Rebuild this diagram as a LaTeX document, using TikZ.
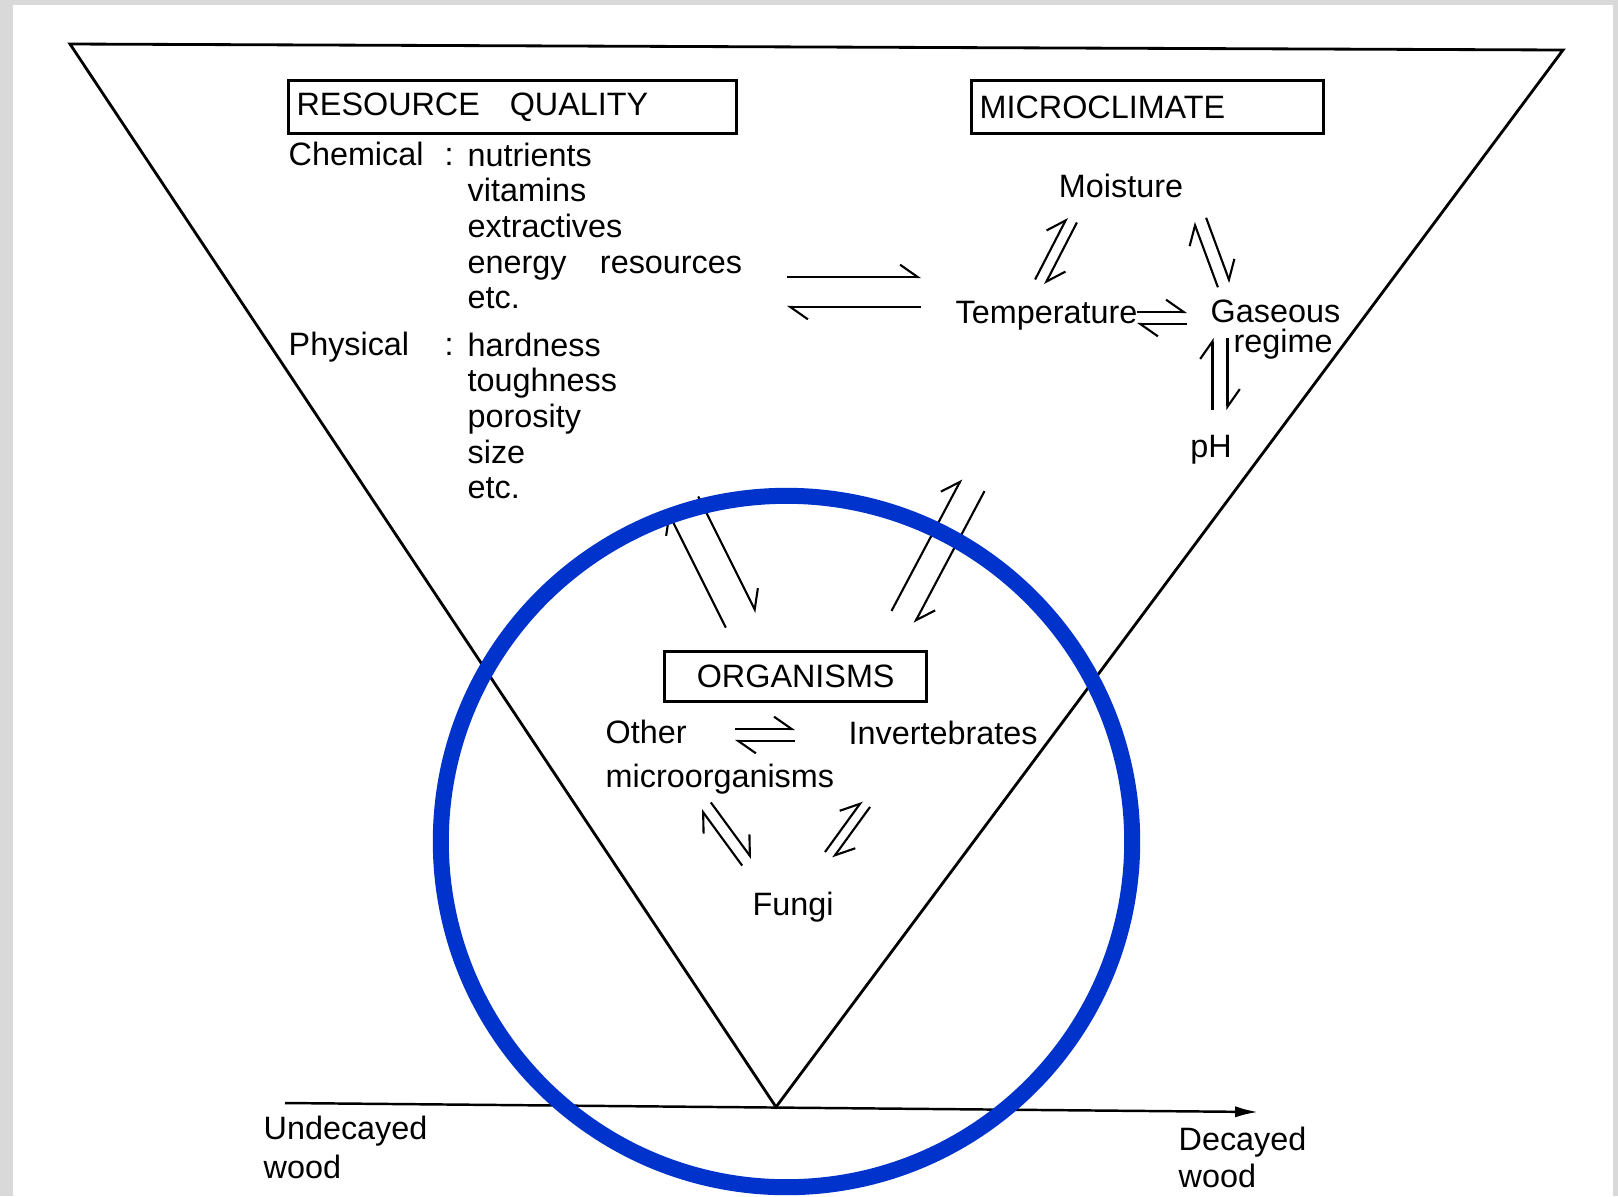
\documentclass[tikz,border=0pt]{standalone}
\usepackage{fontspec}
\setmainfont{Liberation Sans}
\usetikzlibrary{arrows.meta,calc}
\definecolor{ringblue}{RGB}{0,51,204}
\definecolor{pagegray}{RGB}{217,217,217}
\tikzset{
  hp/.style={line width=0.6pt,-{Straight Barb[left,length=5pt,angle'=70]}},
  box/.style={draw,line width=0.9pt,anchor=north west,inner xsep=0.08cm,inner ysep=0pt,minimum height=0.53cm,align=left},
  lbl/.style={anchor=base west}
}
\begin{document}
\begin{tikzpicture}[x=0.01cm,y=-0.01cm,font=\fontsize{9.2}{10.15}\selectfont,inner sep=0pt]
\useasboundingbox (0,0) rectangle (1618,1196);
\fill[pagegray] (0,0) rectangle (1618,1196);
\fill[white] (13,5) rectangle (1613,1196);
% wedge
\coordinate (tl) at (70,44);
\coordinate (tr) at (1563,50);
\coordinate (v) at (776,1107);
\draw[line width=0.8pt] (tl)--(tr)--(v)--cycle;
% decay axis
\coordinate (u0) at (285,1103);
\coordinate (u1) at (1258,1112);
\draw[line width=0.7pt,->,>={Latex[length=6.5pt,width=3.2pt]}](u0)--(u1);
\node[anchor=north west,align=left,font=\fontsize{9.2}{11.2}\selectfont] (undec) at (263,1115) {Undecayed\\wood};
\node[anchor=north west,align=left,font=\fontsize{9.2}{10.6}\selectfont] (dec) at (1178,1126) {Decayed\\wood};
% resource quality
\node[box,text width=4.32cm] (rq) at (287,79) {RESOURCE\hspace{8.5pt}QUALITY};
\node[lbl] (chem) at (288,165) {Chemical};
\node[lbl] (colA) at (444,165) {:};
\node[anchor=north west,align=left] (chemlist) at (467,142) {nutrients\\vitamins\\extractives\\energy\hspace{9.5pt}resources\\etc.};
\node[lbl] (phys) at (288,355) {Physical};
\node[lbl] (colB) at (444,355) {:};
\node[anchor=north west,align=left] (physlist) at (467,332) {hardness\\toughness\\porosity\\size\\etc.};
% microclimate
\node[box,text width=3.36cm] (mc) at (970,79) {MICROCLIMATE};
\node[anchor=base] (moist) at (1121,197) {Moisture};
\node[lbl] (temp) at (955,323) {Temperature};
\node[lbl] (gas) at (1210,322) {Gaseous};
\node[lbl] (regime) at (1233,352) {regime};
\node[anchor=base] (ph) at (1211,457) {pH};
% organisms
\node[box,text width=2.46cm,align=center,minimum height=0.5cm] (org) at (663,650) {ORGANISMS};
\node[lbl] (other) at (605,743) {Other};
\node[lbl] (micro) at (605,787) {microorganisms};
\node[lbl] (invert) at (848,744) {Invertebrates};
\node[lbl] (fungi) at (752,915) {Fungi};
% equilibrium pairs
\coordinate (rqA) at (787,292);
\coordinate (rqB) at (921,292);
\draw[hp] ($(rqA)!0.15cm!90:(rqB)$) -- ($(rqB)!0.15cm!-90:(rqA)$);
\draw[hp] ($(rqB)!0.15cm!90:(rqA)$) -- ($(rqA)!0.15cm!-90:(rqB)$);
\coordinate (mtA) at (1040,282);
\coordinate (mtB) at (1072,220);
\draw[hp] ($(mtA)!0.055cm!90:(mtB)$) -- ($(mtB)!0.055cm!-90:(mtA)$);
\draw[hp] ($(mtB)!0.055cm!90:(mtA)$) -- ($(mtA)!0.055cm!-90:(mtB)$);
\coordinate (mgA) at (1224,285);
\coordinate (mgB) at (1200,220);
\draw[hp] ($(mgA)!0.065cm!90:(mgB)$) -- ($(mgB)!0.065cm!-90:(mgA)$);
\draw[hp] ($(mgB)!0.065cm!90:(mgA)$) -- ($(mgA)!0.065cm!-90:(mgB)$);
\coordinate (tgA) at (1137,318);
\coordinate (tgB) at (1187,318);
\draw[hp] ($(tgA)!0.06cm!90:(tgB)$) -- ($(tgB)!0.06cm!-90:(tgA)$);
\draw[hp] ($(tgB)!0.06cm!90:(tgA)$) -- ($(tgA)!0.06cm!-90:(tgB)$);
\coordinate (gpA) at (1220,410);
\coordinate (gpB) at (1220,338);
\draw[hp] ($(gpA)!0.075cm!90:(gpB)$) -- ($(gpB)!0.075cm!-90:(gpA)$);
\draw[hp] ($(gpB)!0.075cm!90:(gpA)$) -- ($(gpA)!0.075cm!-90:(gpB)$);
\coordinate (roA) at (741,620);
\coordinate (roB) at (683,504);
\draw[hp] ($(roA)!0.17cm!90:(roB)$) -- ($(roB)!0.17cm!-90:(roA)$);
\draw[hp] ($(roB)!0.17cm!90:(roA)$) -- ($(roA)!0.17cm!-90:(roB)$);
\coordinate (moA) at (903,617);
\coordinate (moB) at (973,485);
\draw[hp] ($(moA)!0.13cm!90:(moB)$) -- ($(moB)!0.13cm!-90:(moA)$);
\draw[hp] ($(moB)!0.13cm!90:(moA)$) -- ($(moA)!0.13cm!-90:(moB)$);
\coordinate (oiA) at (735,735);
\coordinate (oiB) at (795,735);
\draw[hp] ($(oiA)!0.06cm!90:(oiB)$) -- ($(oiB)!0.06cm!-90:(oiA)$);
\draw[hp] ($(oiB)!0.06cm!90:(oiA)$) -- ($(oiA)!0.06cm!-90:(oiB)$);
\coordinate (mfA) at (747,862);
\coordinate (mfB) at (706,806);
\draw[hp] ($(mfA)!0.06cm!90:(mfB)$) -- ($(mfB)!0.06cm!-90:(mfA)$);
\draw[hp] ($(mfB)!0.06cm!90:(mfA)$) -- ($(mfA)!0.06cm!-90:(mfB)$);
\coordinate (fiA) at (829,855);
\coordinate (fiB) at (866,804);
\draw[hp] ($(fiA)!0.05cm!90:(fiB)$) -- ($(fiB)!0.05cm!-90:(fiA)$);
\draw[hp] ($(fiB)!0.05cm!90:(fiA)$) -- ($(fiA)!0.05cm!-90:(fiB)$);
% ring
\coordinate (ringc) at (786.5,841.5);
\draw[ringblue,line width=0.16cm] (ringc) circle[radius=3.455cm];
\end{tikzpicture}
\end{document}
